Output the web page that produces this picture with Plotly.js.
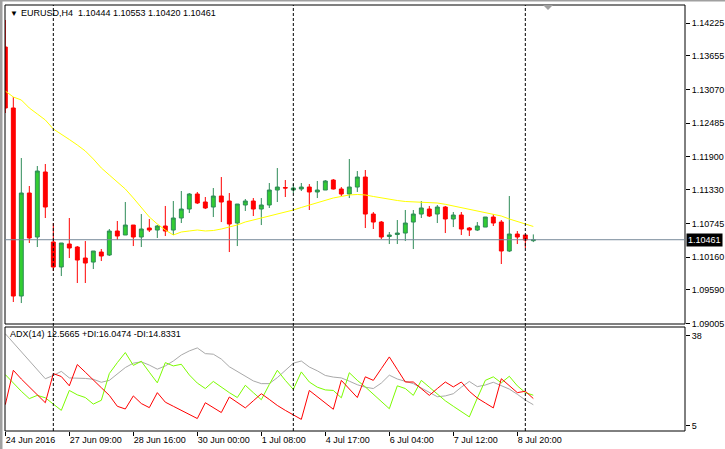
<!DOCTYPE html>
<html><head><meta charset="utf-8">
<script src="https://cdn.plot.ly/plotly-3.0.1.min.js"></script>
<style>html,body{margin:0;padding:0;background:#fff;}#chart{width:725px;height:449px;}</style>
</head><body><div id="chart"></div>
<script>
const symbol = "EURUSD,H4";
const open = [1.13808,1.12749,1.09483,1.11272,1.10508,1.11637,1.10421,1.09987,1.10386,1.10334,
1.10143,1.10073,1.10247,1.10195,1.10612,1.10543,1.10716,1.10508,1.10664,1.10629,
1.10699,1.10629,1.10838,1.10994,1.11255,1.11116,1.11029,1.11220,1.11133,1.10751,
1.11064,1.11133,1.10994,1.11064,1.11324,1.11368,1.11324,1.11342,1.11376,1.11290,
1.11324,1.11498,1.11342,1.11255,1.11376,1.11550,1.10907,1.10768,1.10517,1.10551,
1.10577,1.10768,1.10907,1.10994,1.10907,1.11029,1.10821,1.10890,1.10664,1.10629,
1.10681,1.10855,1.10768,1.10265,1.10560,1.10543,1.10444];
const high = [1.14278,1.12940,1.11880,1.11394,1.11741,1.11776,1.10751,1.10404,1.10838,1.10351,
1.10438,1.10265,1.10299,1.10647,1.10786,1.11116,1.10716,1.10907,1.10821,1.10716,
1.11047,1.11133,1.11307,1.11272,1.11290,1.11203,1.11359,1.11550,1.11272,1.11081,
1.11168,1.11185,1.11185,1.11446,1.11706,1.11498,1.11428,1.11446,1.11428,1.11481,
1.11498,1.11515,1.11376,1.11863,1.11654,1.11672,1.10942,1.10786,1.10595,1.10803,
1.10977,1.10977,1.11133,1.11047,1.11064,1.11047,1.10942,1.10942,1.10681,1.10768,
1.10855,1.10907,1.10803,1.11220,1.10612,1.10543,1.10553];
const low = [1.12662,1.09379,1.09361,1.10404,1.10334,1.10838,1.09917,1.09830,1.10143,1.09709,
1.09709,1.09952,1.10091,1.10178,1.10456,1.10543,1.10351,1.10334,1.10595,1.10491,
1.10525,1.10543,1.10751,1.10925,1.11081,1.10994,1.10855,1.10768,1.10247,1.10351,
1.10960,1.10873,1.10716,1.11012,1.11116,1.11203,1.11272,1.11307,1.10977,1.11185,
1.11324,1.11333,1.11220,1.11185,1.11290,1.10664,1.10647,1.10473,1.10386,1.10386,
1.10438,1.10299,1.10838,1.10855,1.10751,1.10577,1.10681,1.10543,1.10525,1.10612,
1.10681,1.10699,1.10039,1.10247,1.10386,1.10317,1.10420];
const close = [1.12749,1.09483,1.11272,1.10491,1.11654,1.11029,1.09987,1.10404,1.10317,1.10108,
1.10056,1.10265,1.10178,1.10612,1.10525,1.10716,1.10508,1.10647,1.10629,1.10699,
1.10612,1.10838,1.10994,1.11255,1.11099,1.11012,1.11220,1.11116,1.10734,1.11081,
1.11133,1.10994,1.11064,1.11324,1.11376,1.11359,1.11359,1.11376,1.11290,1.11324,
1.11481,1.11342,1.11255,1.11376,1.11550,1.10907,1.10768,1.10508,1.10543,1.10577,
1.10751,1.10907,1.11012,1.10873,1.11029,1.10821,1.10890,1.10647,1.10629,1.10699,
1.10855,1.10751,1.10265,1.10560,1.10508,1.10456,1.10461];
const ma = [1.13044,1.12940,1.12888,1.12749,1.12645,1.12541,1.12384,1.12297,1.12202,1.12106,
1.12002,1.11863,1.11707,1.11585,1.11464,1.11342,1.11186,1.11012,1.10856,1.10734,
1.10630,1.10543,1.10595,1.10613,1.10630,1.10613,1.10621,1.10647,1.10682,1.10717,
1.10769,1.10804,1.10830,1.10873,1.10908,1.10943,1.10977,1.11021,1.11064,1.11108,
1.11151,1.11186,1.11212,1.11238,1.11247,1.11238,1.11212,1.11186,1.11160,1.11142,
1.11125,1.11116,1.11111,1.11111,1.11099,1.11076,1.11047,1.11017,1.10977,1.10955,
1.10925,1.10899,1.10873,1.10821,1.10778,1.10725,1.10691];
const adx = [38.6,35.3,32.0,28.7,25.4,22.1,23.3,24.8,22.4,22.4,
22.2,21.9,20.8,21.5,24.0,26.2,27.8,28.3,27.1,25.6,
26.8,28.6,30.8,32.3,33.4,31.3,31.1,29.3,26.5,24.7,
22.8,21.3,20.3,20.3,22.5,25.0,27.8,28.6,26.4,25.0,
23.3,22.7,22.4,21.2,19.9,19.0,18.5,20.5,23.4,22.0,
21.2,20.3,18.7,17.0,15.5,15.8,16.6,19.0,21.1,19.2,
19.8,20.8,19.5,18.3,16.4,14.3,12.5665];
const plusDI = [23.6,20.5,17.5,14.8,16.0,15.1,12.8,10.5,17.8,16.2,
15.2,12.8,14.2,24.0,28.0,31.7,27.0,28.5,24.5,20.6,
28.0,26.8,27.4,23.5,20.5,18.5,21.1,19.0,17.0,15.2,
19.7,17.0,14.4,20.0,25.2,21.5,18.2,24.6,20.9,19.0,
18.0,17.8,15.1,24.3,21.5,19.1,16.5,13.8,11.1,19.5,
18.5,16.0,21.5,19.0,16.5,14.0,12.0,10.0,8.1,15.0,
21.5,22.8,20.6,23.0,19.5,17.0,16.0474];
const minusDI = [12.6,25.2,22.0,19.0,16.2,13.3,24.0,22.9,19.5,27.3,
24.5,21.5,18.8,16.0,12.0,11.0,15.8,13.0,11.5,17.0,
13.5,12.0,10.5,9.0,7.5,13.3,11.5,9.7,15.4,13.4,
11.4,14.0,16.6,14.5,12.3,10.5,8.8,7.2,17.8,15.5,
13.2,10.9,21.5,18.3,15.2,22.8,21.5,25.8,30.1,25.5,
20.9,20.9,18.5,16.0,18.5,20.9,19.1,20.9,17.5,15.0,
13.2,11.4,22.1,19.5,17.0,17.5,14.8331];
const timeTickBars = [0,8,16,24,32,40,48,56,64];
const timeTickLabels = ["24 Jun 2016","27 Jun 09:00","28 Jun 16:00","30 Jun 00:00","1 Jul 08:00","4 Jul 17:00","6 Jul 04:00","7 Jul 12:00","8 Jul 20:00"];
const priceTicks = [1.14225,1.13655,1.13070,1.12485,1.11900,1.11330,1.10745,1.10160,1.09590,1.09005];
const adxTicks = [38,5];
const separatorBars = [6,36,65];

const idx = open.map((_, i) => i);
const n = open.length;
const lastClose = close[n-1];
const FONT = "Liberation Sans, Arial, sans-serif";

const traces = [
  {type:'candlestick', x:idx, open:open, high:high, low:low, close:close, xaxis:'x', yaxis:'y',
   increasing:{line:{color:'#2E8B57', width:1}, fillcolor:'#32CD32'},
   decreasing:{line:{color:'#FF0000', width:1}, fillcolor:'#FF0000'},
   whiskerwidth:0, hoverinfo:'skip', showlegend:false},
  {type:'scatter', mode:'lines', x:idx, y:ma, xaxis:'x', yaxis:'y', line:{color:'#FFFF00', width:1}, hoverinfo:'skip', showlegend:false},
  {type:'scatter', mode:'lines', x:idx, y:adx, xaxis:'x', yaxis:'y2', line:{color:'#A9A9A9', width:1}, hoverinfo:'skip', showlegend:false},
  {type:'scatter', mode:'lines', x:idx, y:plusDI, xaxis:'x', yaxis:'y2', line:{color:'#7CFC00', width:1}, hoverinfo:'skip', showlegend:false},
  {type:'scatter', mode:'lines', x:idx, y:minusDI, xaxis:'x', yaxis:'y2', line:{color:'#FF0000', width:1}, hoverinfo:'skip', showlegend:false}
];

const plotH = 426, plotW = 680;
const mainBottom = (431-324)/plotH;
const adxTop = (431-327)/plotH;
const px = (X) => (X-5)/plotW;
const py = (Y) => (431-Y)/plotH;

const shapes = [
  {type:'rect', xref:'paper', yref:'paper', x0:0, x1:1, y0:mainBottom, y1:1, line:{color:'#000', width:1}},
  {type:'rect', xref:'paper', yref:'paper', x0:0, x1:1, y0:0, y1:adxTop, line:{color:'#000', width:1}},
  {type:'line', xref:'paper', yref:'y', x0:0, x1:1, y0:lastClose, y1:lastClose, line:{color:'#778899', width:1}},
  {type:'rect', xref:'paper', yref:'paper', x0:px(0), x1:px(2.5), y0:py(449), y1:py(0), fillcolor:'#A0A0A0', line:{width:0}},
  {type:'rect', xref:'paper', yref:'paper', x0:px(0), x1:px(725), y0:py(1.5), y1:py(0), fillcolor:'#A0A0A0', line:{width:0}},
  {type:'path', xref:'paper', yref:'paper', path:`M ${px(543)},${py(5)} L ${px(553)},${py(5)} L ${px(548)},${py(10)} Z`, fillcolor:'#A0A0A0', line:{width:0}}
];
separatorBars.forEach(b => shapes.push({type:'line', xref:'x', yref:'paper', x0:b, x1:b, y0:0, y1:1, line:{color:'#000', width:1, dash:'3px,2px'}}));

const f4 = v => v.toFixed(4);
const annotations = [
  {xref:'paper', yref:'paper', x:px(8), y:py(13), xanchor:'left', yanchor:'middle', showarrow:false, text:'▼', font:{family:FONT, size:8, color:'#000'}},
  {xref:'paper', yref:'paper', x:px(19), y:py(13), xanchor:'left', yanchor:'middle', showarrow:false,
   text: symbol + '  ' + [open[n-1],high[n-1],low[n-1],close[n-1]].map(v=>v.toFixed(5)).join(' '), font:{family:FONT, size:9, color:'#000'}},
  {xref:'paper', yref:'paper', x:px(8), y:py(334), xanchor:'left', yanchor:'middle', showarrow:false,
   text: 'ADX(14) ' + f4(adx[n-1]) + ' +DI:' + f4(plusDI[n-1]) + ' -DI:' + f4(minusDI[n-1]), font:{family:FONT, size:9, color:'#000'}},
  {xref:'paper', yref:'y', x:1, y:lastClose, xanchor:'left', yanchor:'middle', xshift:1, showarrow:false,
   text: lastClose.toFixed(5), bgcolor:'#000', borderpad:1, font:{family:FONT, size:9, color:'#fff'}}
];

const layout = {
  width:725, height:449, paper_bgcolor:'#fff', plot_bgcolor:'#fff',
  margin:{l:5, r:40, t:5, b:18}, showlegend:false, hovermode:false,
  font:{family:FONT, size:9, color:'#000'},
  xaxis:{domain:[0,1], anchor:'y2', range:[-0.04,84.96], rangeslider:{visible:false},
    tickmode:'array', tickvals:timeTickBars, ticktext:timeTickLabels, ticks:'outside', ticklen:4, tickcolor:'#000',
    ticklabelposition:'outside right', tickfont:{family:FONT, size:9, color:'#000'},
    showgrid:false, zeroline:false, showline:false, fixedrange:true},
  yaxis:{domain:[mainBottom,1], anchor:'x', side:'right', range:[1.08997,1.14538],
    tickmode:'array', tickvals:priceTicks, ticktext:priceTicks.map(v=>v.toFixed(5)), ticks:'outside', ticklen:4, tickcolor:'#000',
    tickfont:{family:FONT, size:9, color:'#000'}, showgrid:false, zeroline:false, showline:false, fixedrange:true},
  yaxis2:{domain:[0,adxTop], anchor:'x', side:'right', range:[2.93,41.07],
    tickmode:'array', tickvals:adxTicks, ticktext:adxTicks.map(String), ticks:'outside', ticklen:4, tickcolor:'#000',
    tickfont:{family:FONT, size:9, color:'#000'}, showgrid:false, zeroline:false, showline:false, fixedrange:true},
  shapes:shapes, annotations:annotations
};

Plotly.newPlot('chart', traces, layout, {staticPlot:true, displayModeBar:false});
</script></body></html>
